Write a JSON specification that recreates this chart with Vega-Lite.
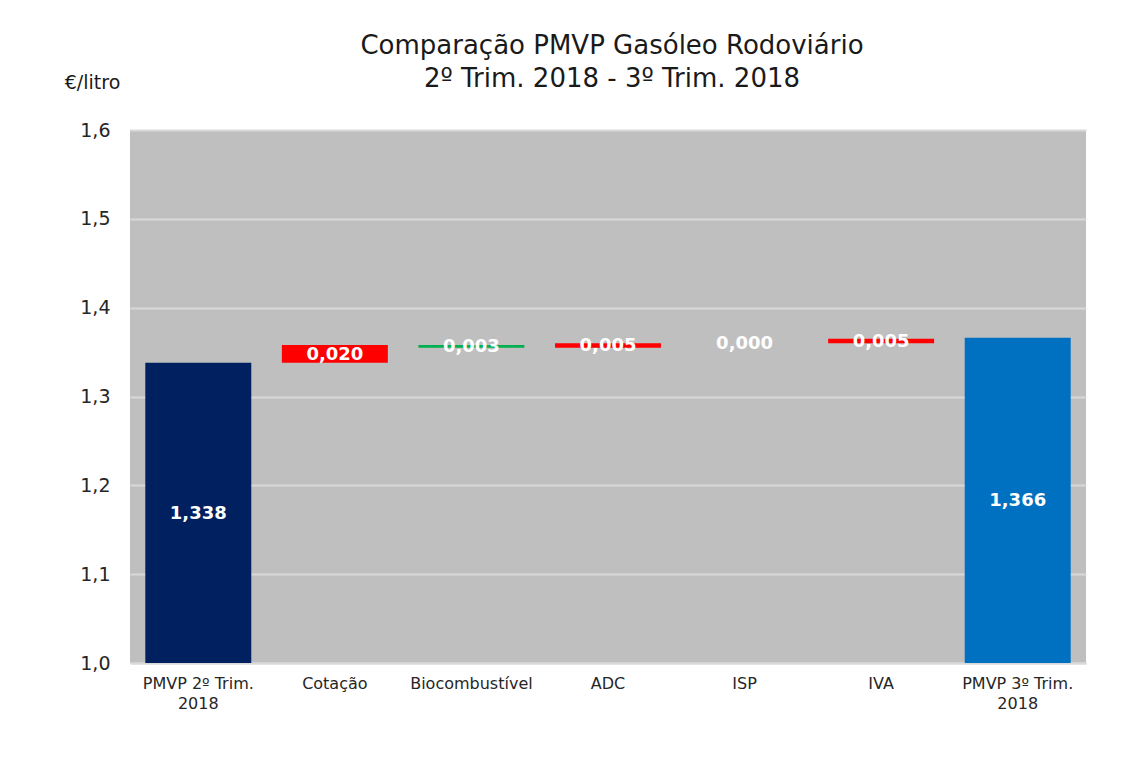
{
  "$schema": "https://vega.github.io/schema/vega-lite/v6.json",
  "width": 956,
  "height": 533,
  "autosize": {"type": "none"},
  "padding": {"left": 130, "top": 130, "right": 43, "bottom": 96},
  "background": "white",
  "title": {
    "text": ["Comparação PMVP Gasóleo Rodoviário", "2º Trim. 2018 - 3º Trim. 2018"],
    "anchor": "middle",
    "frame": "group",
    "offset": -19,
    "dx": 4,
    "font": "DejaVu Sans",
    "fontSize": 26,
    "fontWeight": "normal",
    "color": "#1a1a1a",
    "lineHeight": 33
  },
  "config": {
    "view": {"fill": "#BFBFBF", "stroke": null},
    "axis": {"labelFont": "DejaVu Sans", "titleFont": "DejaVu Sans", "labelColor": "#262626", "titleColor": "#1a1a1a"}
  },
  "data": {
    "values": [
      {"cat": "PMVP 2º Trim.|2018", "start": 1.0, "end": 1.338, "text": "1,338", "kind": "ini"},
      {"cat": "Cotação", "start": 1.338, "end": 1.358, "text": "0,020", "kind": "up"},
      {"cat": "Biocombustível", "start": 1.358, "end": 1.355, "text": "0,003", "kind": "down"},
      {"cat": "ADC", "start": 1.355, "end": 1.360, "text": "0,005", "kind": "up"},
      {"cat": "ISP", "start": 1.360, "end": 1.360, "text": "0,000", "kind": "up"},
      {"cat": "IVA", "start": 1.360, "end": 1.365, "text": "0,005", "kind": "up"},
      {"cat": "PMVP 3º Trim.|2018", "start": 1.0, "end": 1.366, "text": "1,366", "kind": "fin"}
    ]
  },
  "transform": [{"calculate": "(datum.start + datum.end) / 2", "as": "mid"}],
  "encoding": {
    "x": {
      "field": "cat",
      "type": "nominal",
      "sort": null,
      "scale": {"paddingInner": 0.224, "paddingOuter": 0.112},
      "axis": {
        "title": null,
        "labelAngle": 0,
        "labelExpr": "split(datum.label, '|')",
        "labelFontSize": 16,
        "labelLineHeight": 20,
        "labelPadding": 12,
        "ticks": false,
        "domainColor": "#D9D9D9",
        "domainWidth": 2
      }
    }
  },
  "layer": [
    {
      "mark": {"type": "bar"},
      "encoding": {
        "y": {
          "field": "start",
          "type": "quantitative",
          "scale": {"domain": [1.0, 1.6], "zero": false, "nice": false},
          "axis": {
            "title": "€/litro",
            "titleAngle": 0,
            "titleX": -38,
            "titleY": -48,
            "titleAlign": "center",
            "titleBaseline": "middle",
            "titleFontSize": 19,
            "titleFontWeight": "normal",
            "values": [1.0, 1.1, 1.2, 1.3, 1.4, 1.5, 1.6],
            "labelExpr": "replace(format(datum.value, '.1f'), '.', ',')",
            "labelFontSize": 19,
            "labelPadding": 20,
            "ticks": false,
            "domain": false,
            "gridColor": "#D9D9D9",
            "gridWidth": 2
          }
        },
        "y2": {"field": "end"},
        "color": {
          "field": "kind",
          "type": "nominal",
          "scale": {"domain": ["ini", "up", "down", "fin"], "range": ["#002060", "#FF0000", "#00B050", "#0070C0"]},
          "legend": null
        }
      }
    },
    {
      "mark": {"type": "text", "font": "DejaVu Sans", "fontSize": 18, "fontWeight": "bold", "color": "white", "baseline": "middle", "dy": 1},
      "encoding": {
        "y": {"field": "mid", "type": "quantitative"},
        "text": {"field": "text"}
      }
    }
  ]
}
